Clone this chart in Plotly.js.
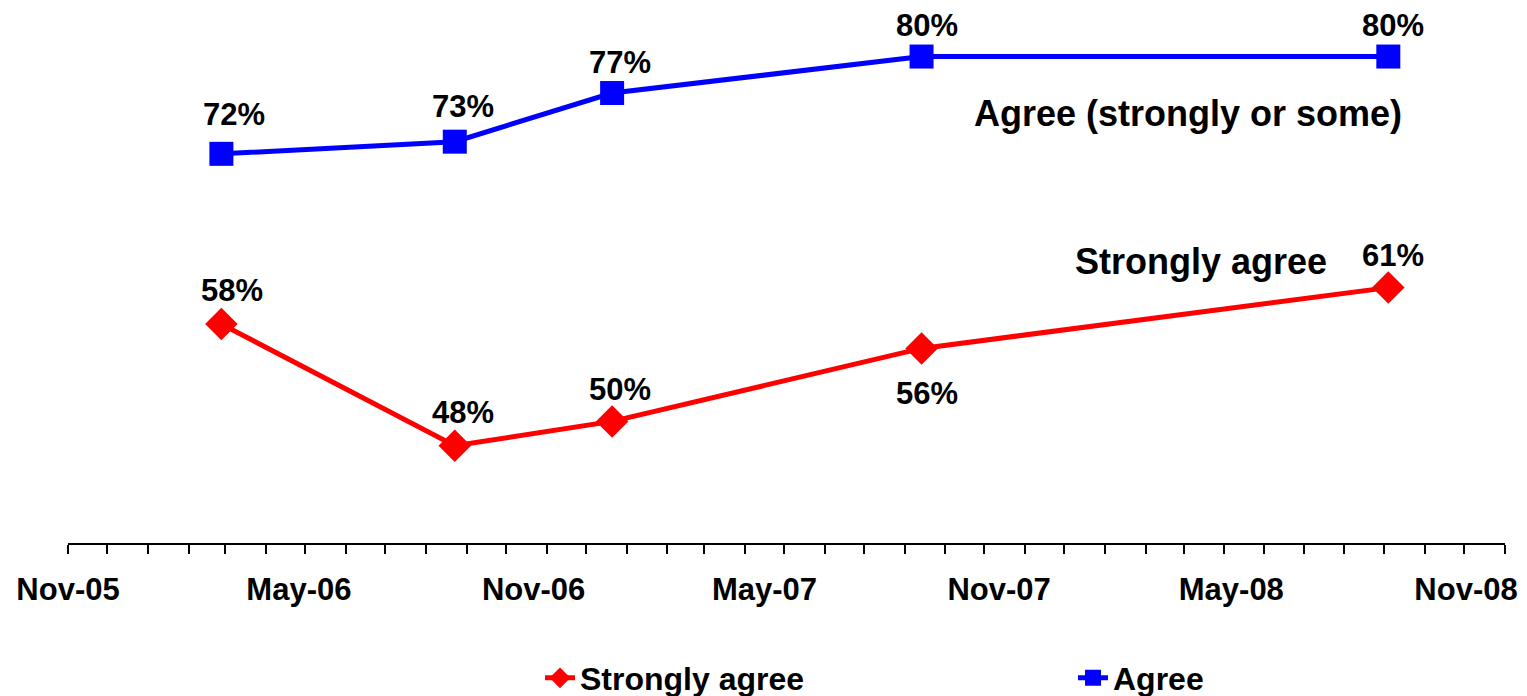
<!DOCTYPE html>
<html>
<head>
<meta charset="utf-8">
<script src="https://cdn.plot.ly/plotly-3.0.1.min.js"></script>
<style>html,body{margin:0;padding:0;background:#fff;}#chart{width:1527px;height:696px;}</style>
</head>
<body>
<div id="chart"></div>
<script>
// Survey dates (read from horizontal positions)
const surveyDates = ['2006-02-26', '2006-08-23', '2006-12-21', '2007-08-14', '2008-08-04'];
// Percent values
const stronglyAgree = [58, 48, 50, 56, 61];
const agree = [72, 73, 77, 80, 80];
const seriesNames = ['Strongly agree', 'Agree'];
const inlineLabels = ['Agree (strongly or some)', 'Strongly agree'];

// label offsets (style only)
const redShift = [34, 33, 32, -45, 32];
const blueShift = [39, 35, 31, 31, 31];
const redX = [11, 8, 8, 5, 5];
const blueX = [13, 8, 8, 5, 5];

const FONT = 'Liberation Sans, Arial, sans-serif';

const traces = [
  {
    // invisible carrier so the label axis (x2) is drawn
    x: surveyDates, y: agree, xaxis: 'x2', yaxis: 'y',
    mode: 'markers', marker: {opacity: 0, size: 1},
    showlegend: false, hoverinfo: 'skip'
  },
  {
    x: surveyDates, y: stronglyAgree, name: seriesNames[0],
    mode: 'lines+markers', type: 'scatter',
    line: {color: '#ff0000', width: 5},
    marker: {symbol: 'diamond', size: 25, color: '#ff0000'},
    hoverinfo: 'skip', cliponaxis: false
  },
  {
    x: surveyDates, y: agree, name: seriesNames[1],
    mode: 'lines+markers', type: 'scatter',
    line: {color: '#0000ff', width: 5},
    marker: {symbol: 'square', size: 24, color: '#0000ff'},
    hoverinfo: 'skip', cliponaxis: false
  }
];

const annotations = [];
stronglyAgree.forEach((v, i) => {
  annotations.push({x: surveyDates[i], y: v, xref: 'x', yref: 'y', text: v + '%',
    showarrow: false, yshift: redShift[i], xshift: redX[i],
    font: {family: FONT, size: 31, color: '#000', weight: 'bold'}});
});
agree.forEach((v, i) => {
  annotations.push({x: surveyDates[i], y: v, xref: 'x', yref: 'y', text: v + '%',
    showarrow: false, yshift: blueShift[i], xshift: blueX[i],
    font: {family: FONT, size: 31, color: '#000', weight: 'bold'}});
});
annotations.push({xref: 'paper', yref: 'paper', x: (1188 - 68) / 1437, y: (543 - 113) / 543,
  text: inlineLabels[0], showarrow: false, xanchor: 'center', yanchor: 'middle',
  font: {family: FONT, size: 36, color: '#000', weight: 'bold'}});
annotations.push({xref: 'paper', yref: 'paper', x: (1201 - 68) / 1437, y: (543 - 261) / 543,
  text: inlineLabels[1], showarrow: false, xanchor: 'center', yanchor: 'middle',
  font: {family: FONT, size: 36, color: '#000', weight: 'bold'}});

const layout = {
  width: 1527, height: 696,
  margin: {l: 68, r: 22, t: 0, b: 153, autoexpand: false},
  paper_bgcolor: '#fff', plot_bgcolor: 'rgba(0,0,0,0)',
  showlegend: true,
  legend: {
    orientation: 'h', xref: 'container', x: 540 / 1527, xanchor: 'left',
    yref: 'container', y: (696 - 678) / 696, yanchor: 'middle',
    entrywidth: 488, entrywidthmode: 'pixels',
    font: {family: FONT, size: 32, color: '#000', weight: 'bold'},
    itemsizing: 'trace', traceorder: 'normal', bgcolor: 'rgba(0,0,0,0)'
  },
  xaxis: {
    type: 'date', domain: [0, 1],
    range: ['2005-11-01', '2008-11-01'],
    tick0: '2005-11-01', dtick: 'M1',
    ticks: 'outside', ticklen: 9, tickwidth: 2, tickcolor: '#000',
    showticklabels: false,
    showline: true, linecolor: '#000', linewidth: 2,
    showgrid: false, zeroline: false,
    fixedrange: true
  },
  xaxis2: {
    type: 'date', anchor: 'y', side: 'bottom',
    domain: [0, (1466 - 68) / 1437],
    range: ['2005-11-01', '2008-11-01'],
    tick0: '2005-11-01', dtick: 'M6', tickformat: '%b-%y',
    ticks: '', showline: false, showgrid: false, zeroline: false,
    ticklabelstandoff: 25,
    tickfont: {family: FONT, size: 31, color: '#000', weight: 'bold'},
    fixedrange: true
  },
  yaxis: {
    range: [40, 84.65], visible: false, showgrid: false, zeroline: false, fixedrange: true
  },
  annotations: annotations
};

Plotly.newPlot('chart', traces, layout, {staticPlot: true, displayModeBar: false});
</script>
</body>
</html>
